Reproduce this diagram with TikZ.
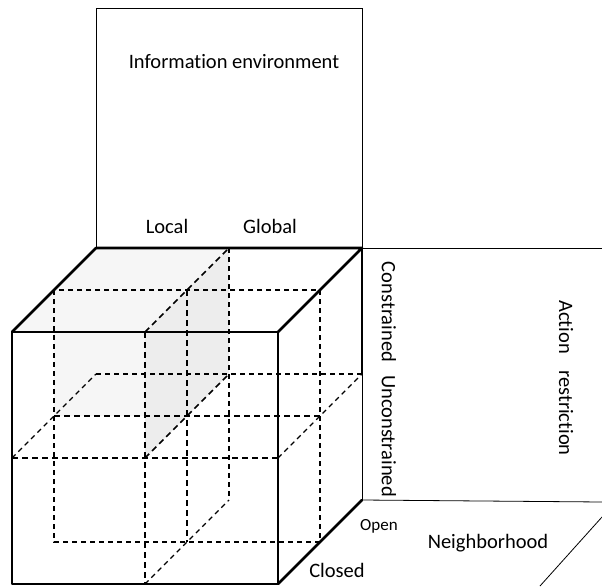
\documentclass[tikz,border=0pt]{standalone}
\usepackage{fontspec}
\setmainfont{Carlito}[Ligatures=CommonOff]
\begin{document}
\begin{tikzpicture}[
    x=1pt, y=-1pt,
    edge/.style={line width=2.6pt, line cap=round, line join=round},
    frame/.style={line width=0.8pt},
    bold dash/.style={line width=1.7pt, dash pattern=on 6pt off 4pt},
    thin dash/.style={line width=1.1pt, dash pattern=on 5pt off 4pt},
    axis text/.style={font=\fontsize{20.5}{24}\selectfont, inner sep=0pt},
    small text/.style={font=\fontsize{17}{20}\selectfont, inner sep=0pt}
]
\useasboundingbox (0,0) rectangle (602,586);

% --- Corner points of the cube: front (0), middle (1) and back (2) slices ---
\foreach \k in {0,1,2} {
    \pgfmathsetmacro{\d}{42*\k}
    \coordinate (tl\k) at (12+\d, 332-\d);
    \coordinate (tm\k) at (145+\d, 332-\d);
    \coordinate (tr\k) at (278+\d, 332-\d);
    \coordinate (ml\k) at (12+\d, 458-\d);
    \coordinate (mm\k) at (145+\d, 458-\d);
    \coordinate (mr\k) at (278+\d, 458-\d);
    \coordinate (bl\k) at (12+\d, 584-\d);
    \coordinate (bm\k) at (145+\d, 584-\d);
    \coordinate (br\k) at (278+\d, 584-\d);
}
\coordinate (info nw) at (96,8);
\coordinate (info ne) at (362,8);
\coordinate (action top) at (602,248);
\coordinate (action bottom) at (602,502);
\coordinate (nbhd top) at (602,517);
\coordinate (nbhd bottom) at (540,586);

% --- Shaded local / constrained block ---
\fill[gray!7] (tl0) -- (tl2) -- (tm2) -- (tm0) -- cycle;
\fill[gray!7] (tl1) -- (tm1) -- (mm1) -- (ml1) -- cycle;
\fill[gray!14] (tm0) -- (tm2) -- (mm2) -- (mm0) -- cycle;

% --- Dimension panels ---
\draw[frame] (tl2) -- (info nw) -- (info ne) -- (tr2);
\draw[frame] (tr2) -- (action top);
\draw[frame] (br2) -- (action bottom);
\draw[frame] (nbhd top) -- (nbhd bottom);

% --- Inner cuts ---
\draw[thin dash] (tl1) rectangle (br1);
\draw[bold dash] (tm1) -- (bm1);
\draw[bold dash] (ml1) -- (mr1);
\draw[thin dash] (ml2) -- (mr2);
\draw[thin dash] (tm2) -- (bm2);
\draw[bold dash] (tm0) -- (tm2);
\draw[thin dash] (ml0) -- (ml2);
\draw[bold dash] (mm0) -- (mm2);
\draw[thin dash] (mr0) -- (mr2);
\draw[thin dash] (bm0) -- (bm2);
\draw[bold dash] (tm0) -- (bm0);
\draw[bold dash] (ml0) -- (mr0);

% --- Outer edges ---
\draw[edge] (tl0) rectangle (br0);
\draw[edge] (tl0) -- (tl2) -- (tr2) -- (tr0);
\draw[edge] (tr2) -- (mr2);
\draw[frame] (mr2) -- (br2);
\draw[edge] (br0) -- (br2);

% --- Labels ---
\node[axis text, anchor=base] (info) at (234,68) {Information environment};
\node[axis text, anchor=base] (local) at (167,233) {Local};
\node[axis text, anchor=base] (global) at (270,233) {Global};
\node[axis text, rotate=-90] (constrained) at (389,312) {Constrained};
\node[axis text, rotate=-90] (unconstrained) at (389,436) {Unconstrained};
\node[axis text, rotate=-90] (action) at (566,378) {Action\hspace{0.8em}restriction};
\node[small text, anchor=base] (open) at (379,530) {Open};
\node[axis text, anchor=base] (nbhd) at (488,548) {Neighborhood};
\node[axis text, anchor=base] (closed) at (337,577) {Closed};

\end{tikzpicture}
\end{document}
